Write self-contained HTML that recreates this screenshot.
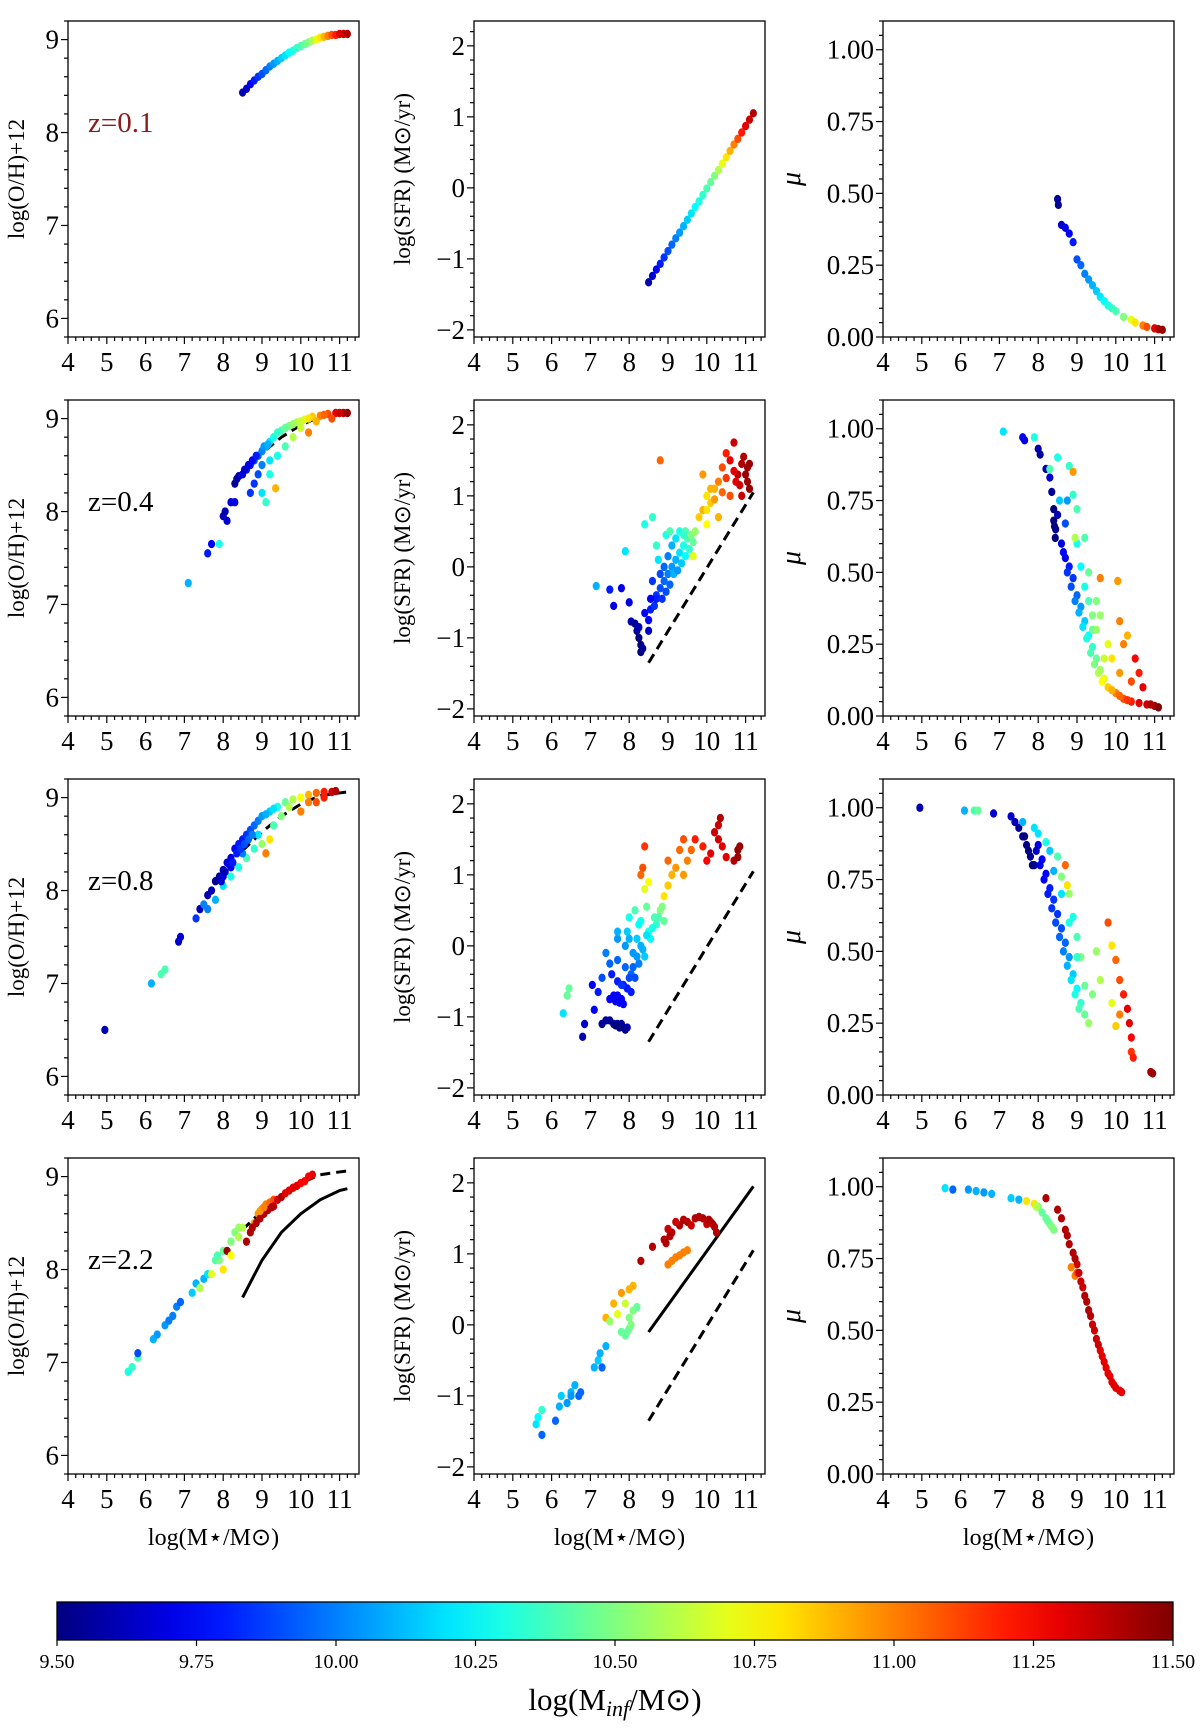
<!DOCTYPE html>
<html><head><meta charset="utf-8"><style>
body{margin:0;background:#fff}
svg{display:block;font-family:"Liberation Serif",serif}
</style></head><body>
<svg id="fig" width="1200" height="1735" viewBox="0 0 1200 1735" xmlns="http://www.w3.org/2000/svg"></svg>
<script>
// ---- data arrays: [logMstar, value, logMinf] ----
const zLabels=["z=0.1","z=0.4","z=0.8","z=2.2"];
const xTicks=[4,5,6,7,8,9,10,11];
const ohTicks=[6,7,8,9];
const sfrTicks=[-2,-1,0,1,2];
const muTicks=[0,0.25,0.5,0.75,1.0];
const cbTicks=[9.5,9.75,10,10.25,10.5,10.75,11,11.25,11.5];

const oh1=[[8.5,8.43,9.6],[8.6,8.47,9.65],[8.7,8.52,9.72],[8.8,8.56,9.8],[8.9,8.6,9.85],[9.0,8.63,9.9],[9.1,8.67,9.95],[9.2,8.71,10.0],[9.3,8.74,10.05],[9.4,8.77,10.1],[9.5,8.8,10.15],[9.6,8.83,10.2],[9.7,8.86,10.25],[9.8,8.88,10.3],[9.9,8.91,10.35],[10.0,8.93,10.4],[10.1,8.95,10.45],[10.2,8.97,10.5],[10.3,8.99,10.6],[10.4,9.0,10.7],[10.5,9.02,10.8],[10.6,9.03,10.9],[10.7,9.04,11.0],[10.8,9.05,11.1],[10.9,9.05,11.2],[11.0,9.06,11.3],[11.1,9.06,11.35],[11.2,9.06,11.4]];
const sfr1=[[8.5,-1.33,9.6],[8.6,-1.24,9.65],[8.7,-1.15,9.72],[8.8,-1.07,9.8],[8.9,-0.98,9.85],[9.0,-0.89,9.9],[9.1,-0.8,9.95],[9.2,-0.71,10.0],[9.3,-0.63,10.05],[9.4,-0.54,10.1],[9.5,-0.45,10.15],[9.6,-0.36,10.2],[9.7,-0.27,10.25],[9.8,-0.19,10.3],[9.9,-0.1,10.35],[10.0,-0.01,10.4],[10.1,0.08,10.45],[10.2,0.17,10.5],[10.3,0.25,10.6],[10.4,0.34,10.7],[10.5,0.43,10.8],[10.6,0.52,10.9],[10.7,0.61,11.0],[10.8,0.69,11.1],[10.9,0.78,11.2],[11.0,0.87,11.3],[11.1,0.96,11.35],[11.2,1.05,11.4]];
const mu1=[[8.5,0.48,9.55],[8.52,0.46,9.55],[8.6,0.39,9.65],[8.7,0.38,9.7],[8.8,0.36,9.75],[8.9,0.33,9.8],[9.0,0.27,9.9],[9.1,0.25,9.95],[9.2,0.22,10.0],[9.3,0.2,10.05],[9.4,0.18,10.1],[9.5,0.16,10.15],[9.6,0.14,10.2],[9.7,0.125,10.25],[9.8,0.11,10.3],[9.9,0.1,10.35],[10.0,0.09,10.4],[10.2,0.07,10.5],[10.4,0.06,10.7],[10.5,0.05,10.8],[10.7,0.04,11.0],[10.8,0.035,11.1],[11.0,0.03,11.3],[11.1,0.027,11.4],[11.2,0.025,11.45]];

const oh2=[[7.1,7.23,10.1],[7.6,7.55,9.8],[7.7,7.65,9.75],[7.9,7.65,10.3],[8.0,7.95,9.6],[8.05,8.0,9.6],[8.1,7.9,9.65],[8.2,8.1,9.7],[8.3,8.1,9.7],[8.3,8.3,9.55],[8.35,8.35,9.55],[8.4,8.38,9.6],[8.5,8.4,9.7],[8.6,8.45,9.8],[8.7,8.5,9.8],[8.8,8.55,9.9],[8.9,8.6,9.95],[9.0,8.65,10.0],[9.1,8.7,10.1],[9.2,8.75,10.2],[9.3,8.8,10.3],[9.5,8.87,10.4],[9.7,8.92,10.5],[9.9,8.96,10.6],[10.1,8.99,10.7],[10.3,9.02,10.85],[10.5,9.03,11.0],[10.7,9.05,11.1],[10.9,9.06,11.3],[11.1,9.06,11.4],[11.2,9.06,11.45],[8.8,8.3,9.85],[8.9,8.4,9.9],[9.0,8.5,10.0],[9.1,8.1,10.35],[9.2,8.4,10.3],[9.4,8.6,10.3],[9.35,8.25,10.9],[9.2,8.55,10.2],[8.7,8.2,9.85],[9.0,8.2,10.2],[10.2,8.85,11.0],[9.6,8.7,10.4],[9.8,8.8,10.6],[10.0,8.9,10.65],[10.4,8.97,10.9],[10.8,9.0,11.1],[8.55,8.45,9.65],[8.65,8.5,9.7],[8.75,8.55,9.75],[8.85,8.6,9.8],[9.05,8.7,10.05],[9.15,8.72,10.1],[9.4,8.85,10.35],[9.6,8.9,10.45],[9.8,8.94,10.55],[10.0,8.97,10.65],[10.2,9.0,10.8],[10.6,9.04,11.05],[11.0,9.06,11.35]];
const sfr2=[[8.05,-0.77,9.6],[8.15,-0.8,9.55],[8.2,-0.9,9.55],[8.25,-1.0,9.5],[8.3,-1.1,9.5],[8.3,-1.2,9.5],[8.35,-1.15,9.55],[8.25,-0.85,9.6],[7.15,-0.27,10.1],[7.5,-0.32,9.8],[7.6,-0.55,9.7],[7.8,-0.3,9.7],[7.9,0.22,10.2],[8.0,-0.5,9.7],[8.4,-0.65,9.75],[8.5,-0.75,9.75],[8.55,-0.6,9.8],[8.65,-0.55,9.85],[8.7,-0.4,9.85],[8.8,-0.3,9.9],[8.8,-0.1,9.9],[8.9,-0.2,9.95],[8.9,0.0,9.95],[9.0,-0.1,10.0],[9.0,0.15,10.0],[9.1,0.0,10.05],[9.1,0.3,10.1],[9.2,0.1,10.1],[9.2,0.4,10.2],[9.3,0.2,10.2],[9.3,0.5,10.3],[9.4,0.3,10.3],[9.45,0.5,10.4],[9.5,0.4,10.4],[9.6,0.45,10.5],[8.4,0.6,10.3],[8.6,0.7,10.35],[8.95,0.45,10.3],[9.05,0.5,10.4],[8.7,0.3,10.35],[8.75,0.1,10.2],[9.15,-0.1,10.1],[8.6,-0.2,9.85],[8.7,-0.45,9.8],[8.5,-0.9,9.65],[8.55,-0.45,9.75],[9.9,0.8,10.9],[9.8,0.7,10.85],[10.0,1.0,10.8],[10.1,0.9,10.85],[10.2,1.1,10.9],[10.3,1.2,11.0],[10.4,1.4,11.1],[10.5,1.6,11.2],[10.6,1.5,11.3],[10.7,1.75,11.35],[10.8,1.3,11.4],[10.9,1.45,11.4],[11.0,1.3,11.45],[11.05,1.2,11.45],[11.1,1.1,11.45],[10.0,0.6,10.75],[9.65,0.15,10.7],[9.9,1.3,10.95],[8.8,1.5,11.05],[10.3,0.7,10.9],[10.6,1.0,11.1],[10.9,1.0,11.35],[10.75,1.2,11.3],[11.1,1.45,11.45],[10.95,1.55,11.4],[8.85,-0.45,9.85],[8.95,-0.35,9.9],[9.05,-0.25,9.95],[9.25,-0.05,10.05],[9.35,0.05,10.15],[9.45,0.15,10.25],[9.55,0.25,10.35],[9.65,0.35,10.45],[9.7,0.5,10.55],[9.4,0.45,10.35],[10.0,0.8,10.8],[10.1,1.1,10.9],[10.2,0.95,10.95],[10.4,1.05,11.05],[10.5,1.25,11.15],[10.7,1.35,11.3],[10.85,1.15,11.35],[11.05,1.4,11.45]];
const mu2=[[7.1,0.99,10.2],[7.6,0.97,9.75],[7.65,0.96,9.7],[7.9,0.97,10.3],[8.0,0.93,9.6],[8.05,0.91,9.55],[8.2,0.86,9.6],[8.3,0.83,9.65],[8.35,0.78,9.55],[8.4,0.72,9.5],[8.4,0.68,9.5],[8.45,0.65,9.55],[8.5,0.7,9.6],[8.6,0.6,9.7],[8.7,0.55,9.7],[8.8,0.52,9.8],[8.9,0.48,9.85],[9.0,0.42,9.95],[9.1,0.38,10.05],[9.2,0.33,10.15],[9.3,0.28,10.25],[9.4,0.24,10.35],[9.5,0.2,10.45],[9.6,0.16,10.55],[9.7,0.13,10.7],[9.8,0.1,10.85],[10.0,0.08,11.0],[10.2,0.06,11.1],[10.4,0.05,11.2],[10.6,0.045,11.3],[10.8,0.04,11.35],[11.0,0.035,11.45],[11.1,0.03,11.5],[8.3,0.86,10.4],[8.5,0.9,10.3],[8.55,0.75,10.15],[8.8,0.87,10.35],[8.9,0.77,10.35],[8.9,0.85,10.95],[9.0,0.72,10.4],[9.0,0.6,10.3],[9.2,0.62,10.4],[9.3,0.5,10.45],[9.6,0.48,11.0],[9.5,0.4,10.5],[9.6,0.35,10.55],[10.1,0.33,11.0],[10.05,0.47,10.95],[8.7,0.67,9.9],[8.75,0.75,10.05],[9.1,0.52,10.25],[9.4,0.3,10.45],[9.8,0.25,10.7],[10.2,0.25,11.0],[10.3,0.28,10.9],[10.5,0.2,11.25],[10.6,0.15,11.2],[10.7,0.1,11.3],[9.9,0.2,10.8],[10.1,0.15,10.95],[10.4,0.12,11.1],[8.95,0.62,10.6],[8.42,0.66,9.5],[8.44,0.62,9.5],[8.65,0.57,9.75],[8.75,0.5,9.85],[8.85,0.45,9.9],[8.95,0.4,10.0],[9.05,0.36,10.1],[9.15,0.31,10.2],[9.25,0.27,10.3],[9.35,0.22,10.4],[9.45,0.18,10.5],[9.55,0.15,10.6],[9.65,0.12,10.75],[9.9,0.09,10.9],[10.1,0.07,11.05],[10.3,0.055,11.15],[10.9,0.04,11.4],[9.2,0.45,10.3],[9.3,0.4,10.4],[9.4,0.35,10.5],[9.5,0.3,10.55],[9.7,0.2,10.65]];

const oh3=[[4.95,6.5,9.6],[6.15,7.0,10.1],[6.4,7.1,10.4],[6.5,7.15,10.4],[6.85,7.45,9.65],[6.9,7.5,9.65],[7.3,7.7,9.85],[7.4,7.8,9.6],[7.5,7.85,10.0],[7.6,7.95,9.6],[7.7,8.0,9.6],[7.8,8.1,9.55],[7.9,8.15,9.55],[8.0,8.22,9.6],[8.1,8.3,9.65],[8.2,8.35,9.7],[8.3,8.45,9.75],[8.4,8.5,9.8],[8.5,8.55,9.8],[8.6,8.6,9.85],[8.7,8.65,9.9],[8.8,8.7,9.95],[8.9,8.75,10.0],[9.0,8.8,10.05],[9.2,8.85,10.15],[9.4,8.9,10.3],[9.6,8.95,10.45],[9.8,8.98,10.6],[10.0,9.0,10.75],[10.2,9.03,10.9],[10.4,9.05,11.05],[10.6,9.06,11.2],[10.8,9.06,11.35],[10.9,9.07,11.4],[7.6,7.8,10.0],[7.8,7.9,10.1],[8.0,8.05,10.2],[8.2,8.15,10.3],[8.4,8.25,10.3],[8.6,8.35,10.4],[8.8,8.45,10.35],[9.0,8.5,10.55],[9.1,8.4,11.0],[9.2,8.55,10.8],[8.5,8.4,10.0],[8.9,8.6,10.2],[9.3,8.7,10.4],[9.5,8.8,10.5],[9.7,8.9,10.6],[10.0,8.85,11.0],[10.2,8.95,11.0],[10.4,8.95,11.1],[10.6,9.0,11.2],[8.0,8.15,9.7],[8.2,8.25,9.75],[7.95,8.1,9.65],[8.05,8.2,9.6],[8.15,8.28,9.7],[8.25,8.3,9.8],[8.35,8.4,9.8],[8.45,8.45,9.85],[8.55,8.5,9.9],[8.65,8.55,9.95],[8.75,8.6,10.0],[9.1,8.82,10.1],[9.3,8.88,10.2]];
const sfr3=[[6.3,-0.95,10.2],[6.4,-0.7,10.45],[6.45,-0.6,10.45],[6.8,-1.28,9.6],[6.85,-1.1,9.65],[7.1,-0.9,9.75],[7.2,-0.65,9.8],[7.05,-0.55,9.75],[7.3,-1.1,9.55],[7.4,-1.05,9.55],[7.5,-1.05,9.55],[7.6,-1.1,9.55],[7.7,-1.1,9.55],[7.8,-1.1,9.55],[7.85,-1.15,9.55],[7.95,-1.15,9.6],[7.5,-0.75,9.75],[7.6,-0.7,9.75],[7.7,-0.7,9.75],[7.8,-0.75,9.75],[7.85,-0.82,9.75],[7.55,-0.4,9.8],[7.7,-0.5,9.8],[7.85,-0.55,9.8],[7.95,-0.6,9.8],[8.05,-0.65,9.8],[7.3,-0.45,9.9],[7.5,-0.25,9.95],[7.7,-0.2,9.95],[7.9,-0.3,9.95],[8.05,-0.4,9.95],[8.15,-0.45,9.9],[7.4,-0.1,10.0],[7.7,0.1,10.05],[7.9,0.0,10.05],[8.1,-0.1,10.05],[8.25,-0.25,10.0],[7.7,0.2,10.1],[7.95,0.2,10.15],[8.2,0.1,10.15],[8.35,-0.05,10.1],[8.0,0.4,10.3],[8.3,0.35,10.3],[8.5,0.2,10.3],[8.15,0.5,10.4],[8.45,0.55,10.45],[8.65,0.4,10.4],[8.8,0.5,10.5],[8.7,0.3,10.35],[8.55,0.1,10.25],[8.4,-0.15,10.15],[8.9,0.35,10.45],[8.4,0.8,10.7],[8.5,0.9,10.75],[8.3,1.0,11.05],[8.35,1.1,11.1],[8.4,1.4,11.15],[8.9,0.7,10.8],[9.0,0.85,10.85],[9.1,1.0,10.9],[9.2,1.1,10.95],[9.4,1.0,10.95],[9.5,1.2,11.0],[9.3,1.35,11.05],[9.6,1.35,11.05],[9.7,1.5,11.2],[9.9,1.4,11.2],[10.0,1.2,11.25],[10.1,1.3,11.3],[10.2,1.6,11.35],[10.3,1.7,11.35],[10.35,1.8,11.4],[10.3,1.5,11.35],[10.4,1.4,11.3],[10.5,1.25,11.3],[10.7,1.2,11.4],[10.8,1.35,11.45],[10.85,1.4,11.45],[10.8,1.25,11.45],[9.0,1.2,11.05],[9.4,1.5,11.1],[7.65,-1.12,9.5],[7.75,-1.15,9.5],[7.9,-1.18,9.55],[7.65,-0.78,9.7],[7.75,-0.8,9.75],[7.8,-0.55,9.85],[8.0,-0.45,9.9],[8.1,-0.3,9.95],[8.2,-0.15,10.05],[8.3,0.0,10.1],[8.45,0.15,10.2],[8.6,0.25,10.3],[8.75,0.4,10.4],[8.85,0.55,10.5],[8.0,0.1,10.1],[8.25,0.3,10.25]];
const mu3=[[4.95,1.0,9.6],[6.1,0.99,10.1],[6.35,0.99,10.4],[6.45,0.99,10.45],[6.85,0.98,9.65],[7.3,0.97,9.65],[7.4,0.95,9.6],[7.5,0.93,9.55],[7.6,0.9,9.55],[7.7,0.87,9.5],[7.8,0.83,9.55],[7.9,0.8,9.6],[8.0,0.87,9.7],[8.1,0.82,9.75],[8.2,0.77,9.75],[8.3,0.72,9.8],[8.4,0.68,9.85],[8.5,0.63,9.85],[8.6,0.58,9.9],[8.7,0.53,9.95],[8.8,0.48,10.05],[8.9,0.42,10.15],[9.0,0.37,10.25],[9.1,0.32,10.35],[9.2,0.28,10.45],[9.3,0.25,10.55],[7.6,0.95,10.1],[7.9,0.93,10.2],[8.2,0.88,10.3],[8.5,0.83,10.4],[8.6,0.76,10.5],[8.8,0.7,10.55],[8.9,0.62,10.3],[9.0,0.55,10.4],[9.1,0.48,10.5],[8.0,0.91,10.2],[8.3,0.85,10.15],[8.7,0.8,11.05],[8.75,0.73,10.8],[9.8,0.6,11.1],[9.9,0.52,10.8],[10.0,0.47,11.05],[10.1,0.4,11.1],[10.2,0.35,11.2],[10.3,0.3,11.3],[10.35,0.25,11.3],[10.4,0.2,11.25],[10.4,0.15,11.15],[10.45,0.13,11.2],[10.1,0.28,11.0],[9.9,0.32,10.7],[10.0,0.24,10.85],[9.6,0.4,10.6],[9.5,0.5,10.55],[10.9,0.08,11.4],[10.95,0.075,11.45],[9.4,0.35,10.5],[7.65,0.9,9.5],[7.75,0.85,9.5],[7.85,0.8,9.5],[7.95,0.85,9.65],[8.05,0.8,9.7],[8.15,0.75,9.75],[8.25,0.7,9.8],[8.35,0.65,9.85],[8.45,0.6,9.9],[8.55,0.55,9.95],[8.65,0.5,10.0],[8.75,0.45,10.1],[8.85,0.4,10.2],[8.95,0.35,10.3],[9.05,0.3,10.4],[8.4,0.78,10.1],[8.6,0.7,10.2],[8.8,0.6,10.3],[9.0,0.48,10.35],[9.2,0.38,10.45]];

const oh4=[[5.55,6.9,10.3],[5.65,6.95,10.35],[5.8,7.05,10.4],[5.8,7.1,9.9],[6.2,7.25,10.1],[6.3,7.3,10.05],[6.5,7.4,10.05],[6.6,7.45,10.0],[6.7,7.5,10.0],[6.8,7.6,10.0],[6.9,7.65,9.95],[7.2,7.75,10.15],[7.3,7.85,10.1],[7.4,7.8,10.6],[7.5,7.9,10.1],[7.6,7.95,10.2],[7.8,8.1,10.4],[7.9,8.1,10.5],[7.85,8.15,10.4],[8.0,8.2,10.45],[8.1,8.2,11.45],[8.2,8.3,10.5],[8.3,8.4,10.5],[8.4,8.45,10.55],[8.5,8.45,10.6],[8.6,8.3,11.4],[8.7,8.4,11.4],[8.8,8.5,10.9],[8.9,8.6,10.95],[9.0,8.65,11.0],[9.1,8.7,11.0],[9.2,8.72,11.05],[9.3,8.75,11.1],[9.3,8.68,11.35],[9.4,8.75,11.35],[9.5,8.78,11.4],[9.7,8.85,11.3],[9.9,8.9,11.3],[10.1,8.95,11.25],[10.2,9.0,11.25],[10.3,9.02,11.3],[8.0,8.0,10.8],[8.2,8.15,10.75],[8.4,8.35,10.6],[7.7,7.95,10.7],[8.75,8.45,11.4],[8.85,8.5,11.4],[8.95,8.55,11.4],[9.05,8.6,11.4],[9.15,8.64,11.4],[9.25,8.67,11.4],[9.6,8.82,11.3],[9.8,8.88,11.3],[10.0,8.93,11.25],[8.95,8.63,10.95],[9.05,8.67,11.0]];
const sfr4=[[5.6,-1.4,10.2],[5.65,-1.3,10.25],[5.75,-1.55,9.95],[5.75,-1.2,10.35],[6.1,-1.35,9.95],[6.2,-1.15,10.1],[6.25,-1.0,10.15],[6.4,-1.1,10.05],[6.5,-0.95,10.1],[6.5,-1.0,10.05],[6.6,-0.85,10.1],[6.7,-1.0,9.95],[6.75,-0.95,9.95],[7.1,-0.6,10.1],[7.2,-0.5,10.15],[7.25,-0.4,10.1],[7.4,-0.3,10.1],[7.3,-0.6,9.95],[7.4,0.1,10.9],[7.5,0.05,10.55],[7.6,0.3,10.9],[7.7,0.15,10.7],[7.8,0.45,10.95],[7.9,0.3,10.65],[8.0,0.5,10.9],[8.1,0.55,10.9],[8.0,0.1,10.5],[8.1,0.2,10.5],[8.2,0.25,10.45],[7.8,-0.1,10.45],[7.9,-0.15,10.45],[8.0,-0.05,10.45],[8.3,0.9,11.4],[8.6,1.1,11.4],[8.9,1.2,11.4],[9.1,1.3,11.4],[9.3,1.4,11.4],[9.5,1.45,11.4],[9.7,1.5,11.4],[9.9,1.5,11.4],[10.1,1.45,11.4],[10.2,1.38,11.4],[10.25,1.3,11.4],[9.0,1.35,11.35],[9.2,1.45,11.35],[9.6,1.4,11.35],[10.0,1.42,11.35],[9.0,0.85,11.0],[9.1,0.9,11.0],[9.2,0.95,11.0],[9.3,0.98,11.0],[9.4,1.02,11.0],[9.5,1.05,11.0],[9.4,1.48,11.4],[9.8,1.52,11.4],[10.05,1.48,11.4],[10.15,1.42,11.4],[9.05,1.25,11.4],[8.95,1.15,11.4],[7.95,-0.1,10.45],[8.05,0.0,10.5]];
const mu4=[[5.6,0.995,10.2],[5.8,0.99,9.95],[6.2,0.99,10.05],[6.4,0.985,10.1],[6.6,0.98,10.05],[6.8,0.975,10.1],[7.3,0.96,10.15],[7.5,0.955,10.1],[7.7,0.95,10.8],[7.9,0.94,10.8],[8.0,0.93,10.5],[8.1,0.91,10.45],[8.2,0.89,10.45],[8.3,0.87,10.5],[8.4,0.85,10.5],[8.2,0.96,11.4],[8.5,0.92,11.4],[8.7,0.85,11.4],[8.8,0.8,11.4],[8.9,0.77,11.4],[9.0,0.73,11.35],[8.85,0.72,11.0],[8.95,0.69,11.0],[9.1,0.67,11.35],[9.2,0.62,11.4],[9.3,0.57,11.4],[9.4,0.52,11.35],[9.5,0.47,11.35],[9.6,0.43,11.3],[9.7,0.39,11.3],[9.8,0.35,11.3],[9.9,0.32,11.3],[10.0,0.3,11.3],[10.1,0.29,11.3],[10.15,0.285,11.3],[9.0,0.7,11.1],[9.05,0.7,11.35],[9.15,0.65,11.35],[9.25,0.6,11.4],[9.35,0.55,11.4],[9.45,0.5,11.35],[9.55,0.45,11.35],[9.65,0.41,11.3],[9.75,0.37,11.3],[9.85,0.34,11.3],[9.95,0.31,11.3],[8.6,0.89,11.4],[8.75,0.83,11.4],[8.95,0.75,11.4],[7.95,0.93,10.6],[8.25,0.88,10.45],[8.35,0.86,10.5]];

// reference relations
const ohRefX=[8.5,9.0,9.5,10.0,10.5,11.0,11.2];
const ohRefY=[8.43,8.63,8.8,8.93,9.02,9.05,9.06];
const ohHiX=[8.5,9.0,9.5,10.0,10.5,11.0,11.2];
const ohHiY=[7.7,8.1,8.4,8.6,8.75,8.85,8.87];
const sfrRefX=[8.5,11.2];
const sfrRefY=[-1.35,1.05];
const sfrHiY=[-0.1,1.95];

const panelData=[[oh1,sfr1,mu1],[oh2,sfr2,mu2],[oh3,sfr3,mu3],[oh4,sfr4,mu4]];

// ---- drawing ----
const NS="http://www.w3.org/2000/svg";
const svg=document.getElementById('fig');
function mk(tag,attrs,parent){const e=document.createElementNS(NS,tag);for(const k in attrs)e.setAttribute(k,attrs[k]);(parent||svg).appendChild(e);return e;}
function jet(v){let t=(v-9.5)/2;t=Math.max(0,Math.min(1,t));
 const r=Math.max(0,Math.min(1,1.5-Math.abs(4*t-3))),g=Math.max(0,Math.min(1,1.5-Math.abs(4*t-2))),b=Math.max(0,Math.min(1,1.5-Math.abs(4*t-1)));
 return `rgb(${Math.round(r*255)},${Math.round(g*255)},${Math.round(b*255)})`;}
const colL=[68,474,883], colW=291;
const rowT=[21,400,779,1158], rowH=316;
const XMIN=4, XMAX=11.5;
const yLims=[[5.8,9.2],[-2.1,2.35],[0,1.1]];
const yMinor=[0.2,0.2,0.05];
const yTickSets=[ohTicks,sfrTicks,muTicks];
const yFmt=[v=>String(v),v=>(v<0?'−'+Math.abs(v):String(v)),v=>v.toFixed(2)];
const yNames=['log(O/H)+12','log(SFR) (M⊙/yr)','μ'];

for(let r=0;r<4;r++){for(let c=0;c<3;c++){
 const L=colL[c],T=rowT[r],W=colW,H=rowH,[y0,y1]=yLims[c];
 const sx=v=>L+(v-XMIN)/(XMAX-XMIN)*W;
 const sy=v=>T+H-(v-y0)/(y1-y0)*H;
 const g=mk('g',{});
 
 
 const cid=`clip${r}${c}`;
 const cp=mk('clipPath',{id:cid},g);mk('rect',{x:L,y:T,width:W,height:H},cp);
 const pts=mk('g',{'clip-path':`url(#${cid})`},g);
 
 
 if(c===0){
  const dpath=ohRefX.map((x,i)=>(i?'L':'M')+sx(x)+','+sy(ohRefY[i])).join('');
  if(r>0){const p=mk('path',{d:dpath,fill:'none',stroke:'#000','stroke-width':3,'stroke-dasharray':'10,6'},pts);
   }
  if(r===3){const sp=ohHiX.map((x,i)=>(i?'L':'M')+sx(x)+','+sy(ohHiY[i])).join('');
   const p=mk('path',{d:sp,fill:'none',stroke:'#000','stroke-width':3},pts);
   }
 }
 if(c===1){
  if(r>0){const p=mk('line',{x1:sx(sfrRefX[0]),y1:sy(sfrRefY[0]),x2:sx(sfrRefX[1]),y2:sy(sfrRefY[1]),stroke:'#000','stroke-width':3,'stroke-dasharray':'10,6'},pts);
   }
  if(r===3){const p=mk('line',{x1:sx(sfrRefX[0]),y1:sy(sfrHiY[0]),x2:sx(sfrRefX[1]),y2:sy(sfrHiY[1]),stroke:'#000','stroke-width':3},pts);
   }
 }
 for(const d of panelData[r][c]){
  const e=mk('ellipse',{cx:sx(d[0]),cy:sy(d[1]),rx:3.6,ry:4.2,fill:jet(d[2])},pts);
  
  
 }
 const fr=mk('rect',{x:L,y:T,width:W,height:H,fill:'none',stroke:'#000','stroke-width':1.3},g);
 
 for(let v=4;v<=11.41;v+=0.2){const major=Math.abs(v-Math.round(v))<1e-6;
  mk('line',{x1:sx(v),x2:sx(v),y1:T+H,y2:T+H+(major?7:4),stroke:'#000','stroke-width':1.2},g);}
 for(const v of xTicks){const t=mk('text',{x:sx(v),y:T+H+34,'font-size':27,'text-anchor':'middle'},g);t.textContent=v;
  }
 const mn=yMinor[c];
 for(let k=Math.ceil(y0/mn-1e-6);k*mn<=y1+1e-9;k++){const v=k*mn;const major=yTickSets[c].some(t=>Math.abs(t-v)<1e-6);
  mk('line',{x1:L,x2:L-(major?7:4),y1:sy(v),y2:sy(v),stroke:'#000','stroke-width':1.2},g);}
 for(const v of yTickSets[c]){const t=mk('text',{x:L-9,y:sy(v)+9,'font-size':27,'text-anchor':'end'},g);t.textContent=yFmt[c](v);
  }
 const yx=c===0?24:(c===1?410:800);
 const yt=mk('text',{x:yx,y:T+H/2,'font-size':c===2?28:23,'text-anchor':'middle',transform:`rotate(-90 ${yx} ${T+H/2})`,'font-style':c===2?'italic':'normal'},g);
 yt.textContent=yNames[c];
 
 if(c===0){const z=mk('text',{x:88,y:T+111,'font-size':29,fill:r===0?'#8b1a1a':'#000'},g);z.textContent=zLabels[r];
  }
 if(r===3){const xt=mk('text',{x:L+W/2,y:1545,'font-size':24,'text-anchor':'middle'},g);xt.textContent='log(M⋆/M⊙)';
  }
}}
// colorbar
const cbL=57,cbR=1173,cbT=1602,cbB=1640;
const defs=mk('defs',{});const lg=mk('linearGradient',{id:'jetg',x1:0,x2:1,y1:0,y2:0},defs);
for(let i=0;i<=20;i++){mk('stop',{offset:i/20,'stop-color':jet(9.5+i/10)},lg);}
const cb=mk('rect',{x:cbL,y:cbT,width:cbR-cbL,height:cbB-cbT,fill:'url(#jetg)',stroke:'#000','stroke-width':1.3});

for(const v of cbTicks){const x=cbL+(v-9.5)/2*(cbR-cbL);
 mk('line',{x1:x,x2:x,y1:cbB,y2:cbB+6,stroke:'#000','stroke-width':1.2});
 const t=mk('text',{x:x,y:1668,'font-size':20,'text-anchor':'middle'});t.textContent=v.toFixed(2);
 }
const ct=mk('text',{x:615,y:1710,'font-size':31,'text-anchor':'middle'});
ct.innerHTML='log(M<tspan font-style="italic" font-size="22" dy="6">inf</tspan><tspan dy="-6">/M⊙)</tspan>';

</script>
</body></html>
